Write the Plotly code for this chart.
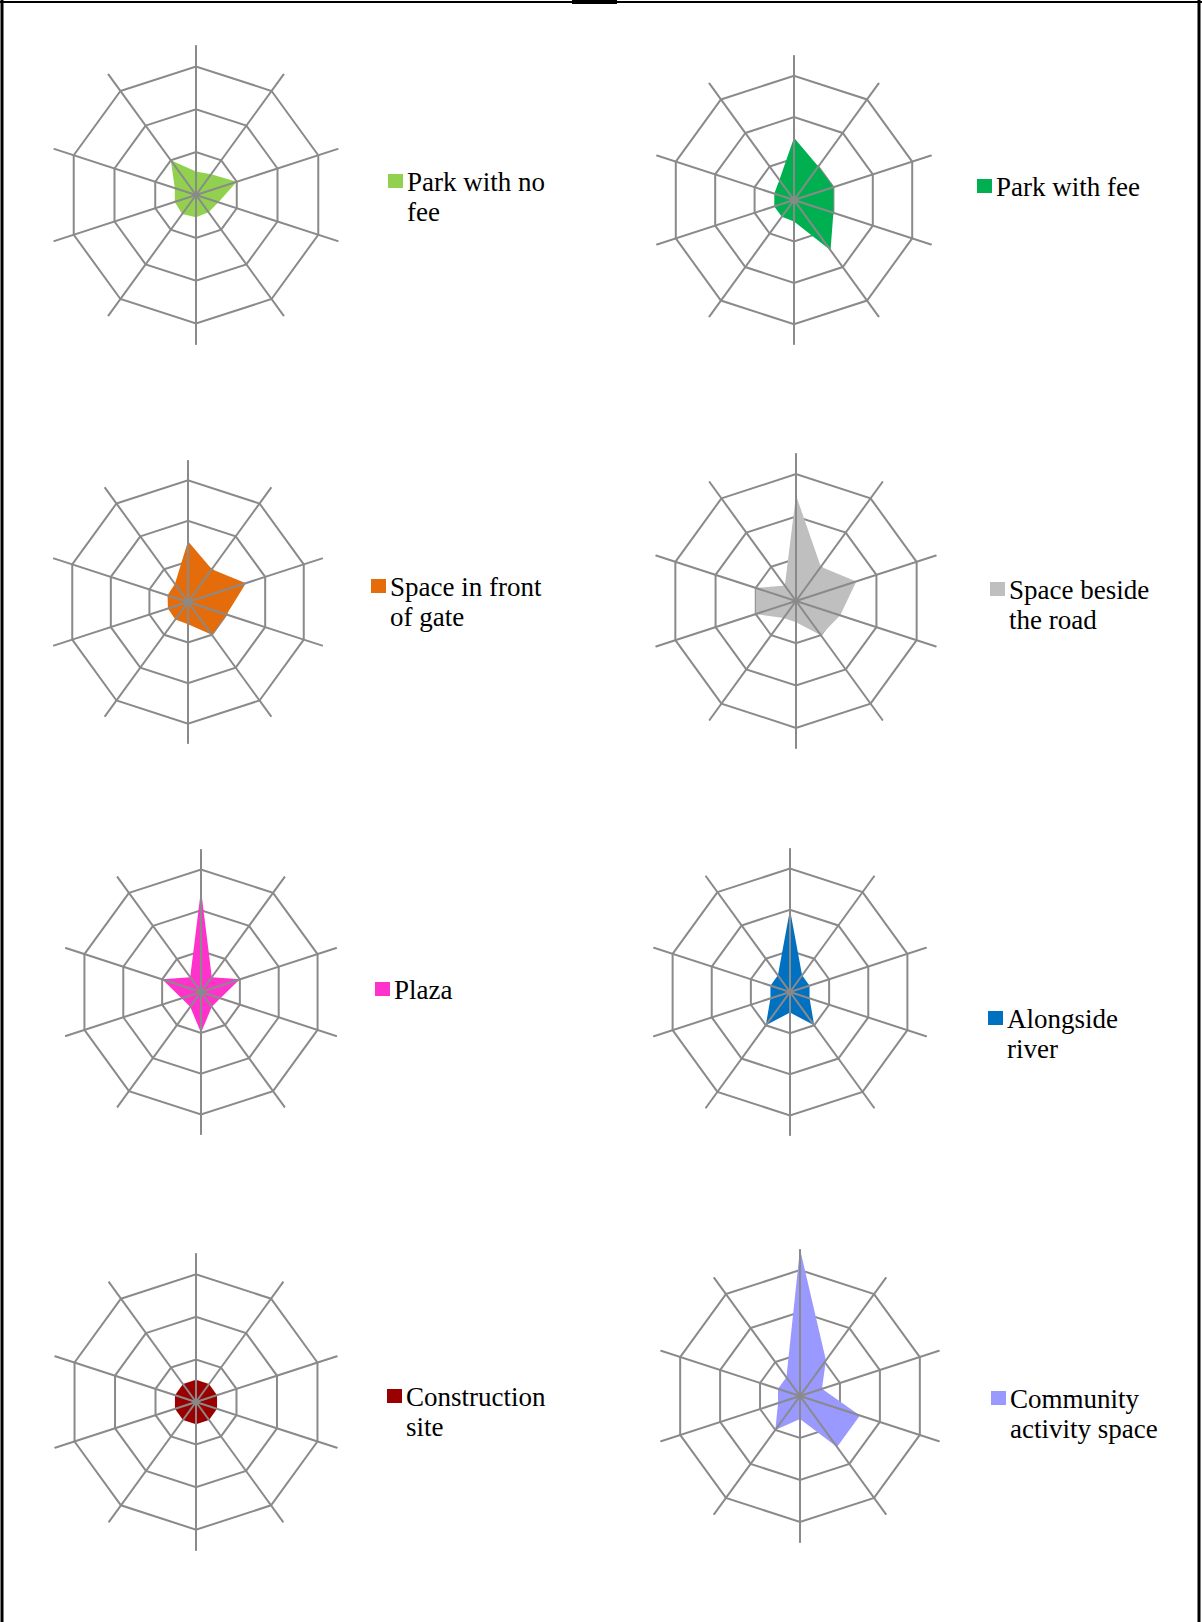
import plotly.graph_objects as go

W, H = 1202, 1622

# Ten indicators around each radar, clockwise from the top
categories = ["I1", "I2", "I3", "I4", "I5", "I6", "I7", "I8", "I9", "I10"]

# Space types and their scores on the ten indicators
park_no_fee = [0.55, 0.6, 1.0, 0.55, 0.5, 0.52, 0.55, 0.52, 0.52, 1.0]
park_with_fee = [1.5, 1.0, 1.0, 1.0, 1.5, 0.52, 0.5, 0.5, 0.5, 0.6]
front_of_gate = [1.5, 1.0, 1.5, 1.0, 1.0, 0.55, 0.53, 0.52, 0.53, 0.55]
beside_road = [2.5, 1.0, 1.5, 1.1, 1.0, 0.5, 0.5, 1.0, 1.0, 0.45]
plaza = [2.5, 0.45, 1.0, 0.5, 0.45, 1.0, 0.45, 0.5, 1.0, 0.45]
alongside_river = [2.0, 0.5, 0.5, 0.5, 1.0, 0.5, 1.0, 0.5, 0.5, 0.5]
construction_site = [0.52, 0.52, 0.52, 0.52, 0.52, 0.52, 0.52, 0.52, 0.52, 0.52]
community_space = [3.5, 1.05, 0.55, 1.5, 1.5, 0.55, 1.0, 0.55, 0.55, 0.55]

series_values = [park_no_fee, park_with_fee, front_of_gate, beside_road,
                 plaza, alongside_river, construction_site, community_space]
series_labels = [["Park with no", "fee"], ["Park with fee"],
                 ["Space in front", "of gate"], ["Space beside", "the road"],
                 ["Plaza"], ["Alongside", "river"],
                 ["Construction", "site"], ["Community", "activity space"]]
series_colors = ["#92D050", "#00B050", "#E46C0A", "#BFBFBF",
                 "#FF33CC", "#0070C0", "#9A0000", "#9999FF"]

ring_values = [1, 2, 3]
r_max = 3.5

# Panel geometry in pixels: radar centre, spoke length, legend anchor
centers = [(196, 195), (794, 200), (188, 602), (796, 601),
           (201, 992), (790, 992), (196, 1402), (800, 1396)]
radii = [150, 145, 142, 148, 143, 144, 149, 147]
legend_pos = [(388, 181), (977, 186), (371, 586), (990, 589),
              (375, 989), (988, 1018), (387, 1396), (991, 1398)]

GRID = "#8A8A8A"


def px_x(x):
    return x / W


def px_y(y):
    return 1 - y / H


fig = go.Figure()
layout_polars = {}
annotations = []
shapes = []

for i, (vals, labels, color) in enumerate(zip(series_values, series_labels, series_colors)):
    key = "polar" if i == 0 else f"polar{i + 1}"
    cx, cy = centers[i]
    R = radii[i]

    # filled profile
    fig.add_trace(go.Scatterpolar(
        r=vals + [vals[0]],
        theta=categories + [categories[0]],
        mode="lines",
        fill="toself",
        fillcolor=color,
        line=dict(width=0, color=color),
        name=" ".join(labels),
        showlegend=False,
        subplot=key,
    ))

    # spokes drawn over the fill
    sr, st = [], []
    for c in categories:
        sr += [0, r_max, None]
        st += [c, c, None]
    fig.add_trace(go.Scatterpolar(
        r=sr, theta=st, mode="lines",
        line=dict(color=GRID, width=2),
        showlegend=False, hoverinfo="skip", subplot=key,
    ))

    layout_polars[key] = dict(
        domain=dict(x=[px_x(cx - R), px_x(cx + R)],
                    y=[px_y(cy + R), px_y(cy - R)]),
        bgcolor="rgba(0,0,0,0)",
        gridshape="linear",
        radialaxis=dict(range=[0, r_max], tickvals=ring_values,
                        showticklabels=False, ticks="", showline=False,
                        gridcolor=GRID, gridwidth=2),
        angularaxis=dict(type="category", categoryarray=categories,
                         rotation=90, direction="clockwise",
                         showgrid=False, showline=False,
                         showticklabels=False, ticks=""),
    )

    # legend swatch and label
    lx, ly = legend_pos[i]
    shapes.append(dict(type="rect", xref="paper", yref="paper",
                       x0=px_x(lx), x1=px_x(lx + 15),
                       y0=px_y(ly + 7), y1=px_y(ly - 7),
                       fillcolor=color, line=dict(width=0)))
    for k, line in enumerate(labels):
        annotations.append(dict(
            text=line, xref="paper", yref="paper",
            x=px_x(lx + 17), y=px_y(ly + 1 + 30 * k),
            xanchor="left", yanchor="middle", showarrow=False,
            font=dict(family="Liberation Serif", size=27, color="black"),
        ))

# page frame: left, top and right edges
frame = dict(color="black", width=3)
shapes += [
    dict(type="line", xref="paper", yref="paper", x0=px_x(2), x1=px_x(2), y0=0, y1=1, line=frame),
    dict(type="line", xref="paper", yref="paper", x0=0, x1=1, y0=px_y(2), y1=px_y(2), line=dict(color="black", width=2)),
    dict(type="line", xref="paper", yref="paper", x0=px_x(1199), x1=px_x(1199), y0=0, y1=1, line=frame),
    dict(type="line", xref="paper", yref="paper", x0=px_x(572), x1=px_x(617), y0=px_y(2), y1=px_y(2), line=dict(color="black", width=4)),
]

fig.update_layout(
    width=W, height=H,
    margin=dict(l=0, r=0, t=0, b=0),
    paper_bgcolor="white", plot_bgcolor="white",
    showlegend=False,
    annotations=annotations,
    shapes=shapes,
    **layout_polars,
)

fig.write_html("out.html")
